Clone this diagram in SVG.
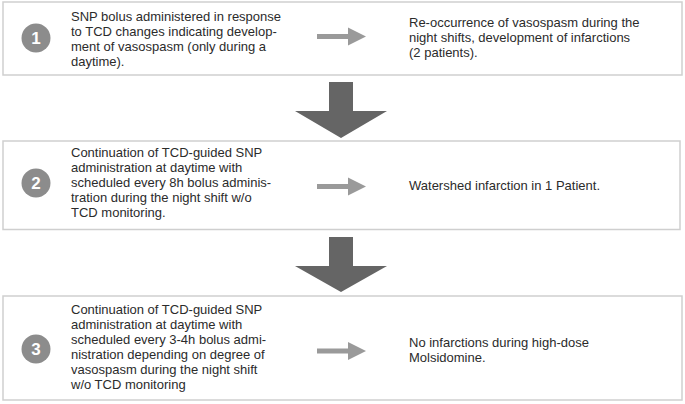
<svg xmlns="http://www.w3.org/2000/svg" width="685" height="404" viewBox="0 0 685 404">
<style>
.box{fill:#fff;stroke:#cfcfcf;stroke-width:1.5}
.t{font-family:"Liberation Sans",Arial,sans-serif;font-size:13px;fill:#2b2b2b}
.num{font-family:"Liberation Sans",Arial,sans-serif;font-size:17px;font-weight:bold;fill:#fff;text-anchor:middle}
.badge{fill:#8c8c8c}
.small{fill:#9a9a9a}
.big{fill:#656565}
</style>
<defs>
<path id="sarrow" d="M317,-2.5 H348 V-9 L366,0 L348,9 V2.5 H317 Z"/>
</defs>
<rect width="685" height="404" fill="#fff"/>
<g id="step1">
<rect class="box" x="3" y="2" width="679" height="73"/>
<circle class="badge" cx="36" cy="38" r="14.5"/>
<text class="num" x="36" y="44">1</text>
<text class="t" x="71" y="20.5">SNP bolus administered in response</text>
<text class="t" x="71" y="35.5">to TCD changes indicating develop-</text>
<text class="t" x="71" y="50.5">ment of vasospasm (only during a</text>
<text class="t" x="71" y="65.5">daytime).</text>
</g>
<g id="result1">
<text class="t" x="409" y="26.5">Re-occurrence of vasospasm during the</text>
<text class="t" x="409" y="41.5">night shifts, development of infarctions</text>
<text class="t" x="409" y="56.5">(2 patients).</text>
</g>
<g id="step2">
<rect class="box" x="3" y="141" width="677" height="88.5"/>
<circle class="badge" cx="36" cy="183" r="14.5"/>
<text class="num" x="36" y="189">2</text>
<text class="t" x="71" y="156.5">Continuation of TCD-guided SNP</text>
<text class="t" x="71" y="171.5">administration at daytime with</text>
<text class="t" x="71" y="186.5">scheduled every 8h bolus adminis-</text>
<text class="t" x="71" y="201.5">tration during the night shift w/o</text>
<text class="t" x="71" y="216.5">TCD monitoring.</text>
</g>
<g id="result2">
<text class="t" x="409" y="190">Watershed infarction in 1 Patient.</text>
</g>
<g id="step3">
<rect class="box" x="3" y="296" width="679" height="104"/>
<circle class="badge" cx="36" cy="349" r="14.5"/>
<text class="num" x="36" y="355">3</text>
<text class="t" x="71" y="314">Continuation of TCD-guided SNP</text>
<text class="t" x="71" y="329">administration at daytime with</text>
<text class="t" x="71" y="344">scheduled every 3-4h bolus admi-</text>
<text class="t" x="71" y="359">nistration depending on degree of</text>
<text class="t" x="71" y="374">vasospasm during the night shift</text>
<text class="t" x="71" y="389">w/o TCD monitoring</text>
</g>
<g id="result3">
<text class="t" x="409" y="346.5">No infarctions during high-dose</text>
<text class="t" x="409" y="361.5">Molsidomine.</text>
</g>
<g id="connectors">
<use href="#sarrow" class="small" transform="translate(0,36.5)"/>
<use href="#sarrow" class="small" transform="translate(0,186.5)"/>
<use href="#sarrow" class="small" transform="translate(0,351)"/>
<path class="big" d="M329,82 H353 V111 H387 L341,138 L295,111 H329 Z"/>
<path class="big" d="M329,237 H353 V266 H387 L341,292 L295,266 H329 Z"/>
</g>
</svg>
